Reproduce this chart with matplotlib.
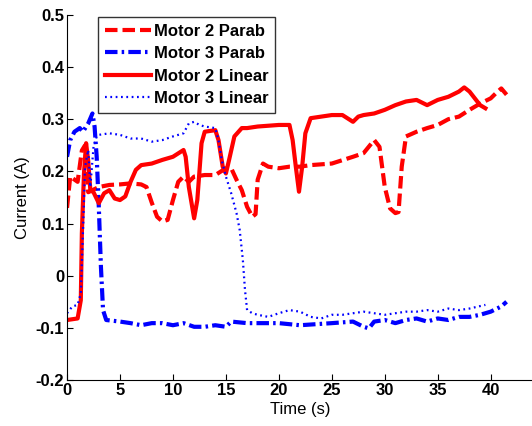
import matplotlib
matplotlib.use("Agg")
from matplotlib import pyplot as plt

plt.rcParams['font.family'] = ['Liberation Sans', 'DejaVu Sans']
plt.rcParams['font.weight'] = 'bold'
plt.rcParams['font.size'] = 12

# Motor 2, parabolic profile
t_m2p = [0, 0.3, 1.0, 1.4, 1.7, 2.0, 2.5, 3, 4, 5, 6, 7, 7.5, 8, 8.5, 9, 9.5, 10, 10.5, 11, 11.5,
         12, 13, 14, 15, 15.5, 16, 16.5, 17, 17.5, 17.8, 18, 18.5, 19, 20, 21, 22, 23, 25, 27, 28,
         29, 29.5, 30, 30.5, 31, 31.3, 31.6, 32, 33, 34, 35, 36, 37, 38, 39, 40, 40.5, 41, 41.5]
i_m2p = [0.13, 0.19, 0.18, 0.24, 0.25, 0.16, 0.165, 0.17, 0.174, 0.175, 0.177, 0.175, 0.17, 0.14, 0.113, 0.104, 0.107, 0.145, 0.18, 0.19, 0.18,
         0.19, 0.193, 0.193, 0.206, 0.206, 0.184, 0.164, 0.132, 0.113, 0.118, 0.184, 0.215, 0.209, 0.206, 0.209, 0.209, 0.212, 0.215, 0.228, 0.235,
         0.26, 0.247, 0.17, 0.129, 0.12, 0.122, 0.209, 0.267, 0.276, 0.283, 0.289, 0.30, 0.305, 0.318, 0.33, 0.34, 0.35, 0.359, 0.347]

# Motor 3, parabolic profile
t_m3p = [0, 0.3, 0.7, 1.2, 1.5, 2.0, 2.4, 2.6, 2.8, 3.0, 3.2, 3.4, 3.7, 5, 6, 7, 8, 9, 10, 11, 12, 13, 14, 15,
         15.5, 17, 20, 22, 25, 27, 28, 28.5, 29, 30, 31, 32, 33, 34, 35, 36, 37, 38, 39, 40, 41, 41.5]
i_m3p = [0.228, 0.26, 0.276, 0.283, 0.276, 0.292, 0.311, 0.286, 0.228, 0.132, 0.017, -0.066, -0.085, -0.088, -0.091, -0.095, -0.091, -0.091, -0.095, -0.091, -0.098, -0.098, -0.095, -0.098,
         -0.088, -0.091, -0.091, -0.095, -0.091, -0.088, -0.098, -0.101, -0.088, -0.085, -0.091, -0.085, -0.082, -0.088, -0.082, -0.085, -0.079, -0.079, -0.075, -0.069, -0.059, -0.05]

# Motor 2, linear profile
t_m2l = [0, 1.0, 1.3, 1.4, 1.6, 1.8, 2.0, 2.2, 2.5, 3, 3.5, 4, 4.5, 5, 5.5, 6, 6.5, 7, 8, 9, 10, 11, 11.2,
         11.5, 12, 12.3, 12.7, 13, 14, 14.3, 14.7, 15, 15.3, 15.8, 16.5, 17, 18, 20, 21, 21.3, 21.6, 21.9,
         22.2, 22.5, 23, 25, 26, 27, 27.5, 28, 29, 30, 31, 32, 33, 34, 35, 36, 37, 37.5, 38, 38.5, 39, 39.5]
i_m2l = [-0.085, -0.082, -0.047, 0.081, 0.196, 0.254, 0.22, 0.164, 0.16, 0.139, 0.158, 0.164, 0.148, 0.145, 0.152, 0.18, 0.203, 0.212, 0.215, 0.222, 0.228, 0.241, 0.228,
         0.17, 0.11, 0.145, 0.254, 0.276, 0.279, 0.26, 0.209, 0.196, 0.222, 0.267, 0.283, 0.283, 0.286, 0.289, 0.289, 0.26, 0.209, 0.161,
         0.209, 0.273, 0.302, 0.308, 0.308, 0.295, 0.305, 0.308, 0.311, 0.318, 0.327, 0.334, 0.337, 0.327, 0.337, 0.343, 0.353, 0.361, 0.353, 0.34, 0.327, 0.321]

# Motor 3, linear profile
t_m3l = [0, 0.5, 1.0, 1.3, 1.5, 1.7, 2.0, 2.2, 2.5, 2.8, 3, 4, 5, 6, 7, 8, 9, 10, 11, 11.5, 12, 12.5, 13, 14,
         14.3, 14.6, 15, 15.5, 16, 16.3, 16.6, 16.8, 17, 17.5, 18, 19, 20, 21, 22, 23, 24, 25, 26, 27, 28,
         29, 30, 31, 32, 33, 34, 35, 36, 37, 38, 39.5]
i_m3l = [-0.072, -0.059, -0.056, -0.034, 0.081, 0.209, 0.241, 0.17, 0.247, 0.267, 0.27, 0.273, 0.27, 0.263, 0.263, 0.257, 0.26, 0.267, 0.273, 0.292, 0.295, 0.289, 0.286, 0.283,
         0.26, 0.222, 0.19, 0.158, 0.12, 0.088, 0.03, -0.027, -0.066, -0.072, -0.075, -0.079, -0.072, -0.066, -0.069, -0.079, -0.082, -0.075, -0.075, -0.072, -0.069,
         -0.072, -0.075, -0.072, -0.069, -0.069, -0.066, -0.069, -0.063, -0.066, -0.063, -0.056]

fig = plt.figure(figsize=(5.32, 4.26), dpi=100)
ax = fig.add_axes([0.126, 0.108, 0.876, 0.857])

ax.plot(t_m2p, i_m2p, color='#ff0000', lw=3.0, dashes=(3.0, 1.2), label='Motor 2 Parab')
ax.plot(t_m3p, i_m3p, color='#0000ff', lw=3.0, dashes=(3.0, 1.0, 0.6, 1.0), label='Motor 3 Parab')
ax.plot(t_m2l, i_m2l, color='#ff0000', lw=3.0, label='Motor 2 Linear')
ax.plot(t_m3l, i_m3l, color='#0000ff', lw=1.6, dashes=(0.8, 1.6), label='Motor 3 Linear')

ax.set_xlim(0, 44)
ax.set_ylim(-0.2, 0.5)
ax.set_xticks([0, 5, 10, 15, 20, 25, 30, 35, 40])
ax.set_yticks([-0.2, -0.1, 0, 0.1, 0.2, 0.3, 0.4, 0.5])
ax.set_yticklabels(['-0.2', '-0.1', '0', '0.1', '0.2', '0.3', '0.4', '0.5'])
ax.tick_params(direction='in', length=4, width=0.8, pad=2)
ax.spines['top'].set_visible(False)
ax.spines['right'].set_visible(False)
ax.set_xlabel('Time (s)', labelpad=3)
ax.set_ylabel('Current (A)', labelpad=4)

leg = ax.legend(loc='upper left', bbox_to_anchor=(98 / 532, 1 - 17 / 426), bbox_transform=fig.transFigure,
                fancybox=False, edgecolor='#333333', framealpha=1, borderaxespad=0,
                handlelength=2.8, handletextpad=0.15, labelspacing=0.45, borderpad=0.4)
leg.get_frame().set_linewidth(1.0)

fig.savefig('out.png', dpi=100)
